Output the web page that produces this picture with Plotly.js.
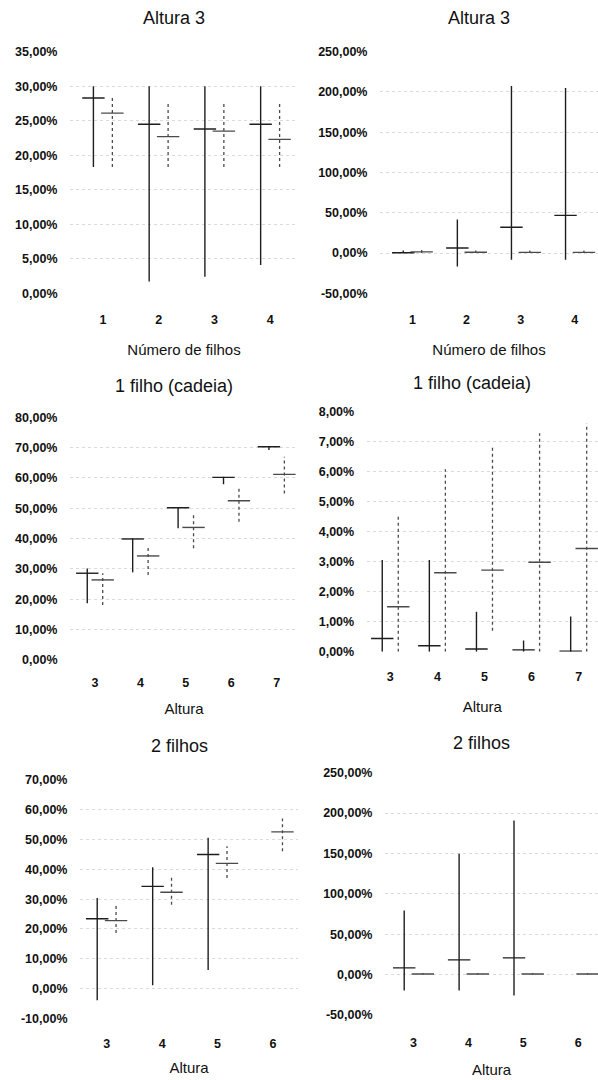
<!DOCTYPE html>
<html>
<head>
<meta charset="utf-8">
<script src="https://cdn.plot.ly/plotly-3.0.1.min.js"></script>
<style>
  html, body { margin: 0; padding: 0; background: #fff; }
  #chart { width: 598px; height: 1080px; }
</style>
</head>
<body>
<div id="chart"></div>
<script>
// ---------------- DATA ----------------
// Panel 1: "Altura 3" (left) — x: Número de filhos
const p1Title = "Altura 3";
const p1XTitle = "Número de filhos";
const p1Categories = [1, 2, 3, 4];
const p1SolidMin  = [18.3, 1.7, 2.4, 4.1];
const p1SolidMax  = [30.0, 30.0, 30.0, 30.0];
const p1SolidMean = [28.3, 24.5, 23.8, 24.5];
const p1DotMin    = [18.3, 18.3, 18.3, 18.3];
const p1DotMax    = [28.7, 27.7, 27.7, 27.5];
const p1DotMean   = [26.1, 22.7, 23.5, 22.3];
const p1YTicks    = [0, 5, 10, 15, 20, 25, 30, 35];

// Panel 2: "Altura 3" (right)
const p2Title = "Altura 3";
const p2XTitle = "Número de filhos";
const p2Categories = [1, 2, 3, 4];
const p2SolidMin  = [0.0, -16.7, -8.3, -8.3];
const p2SolidMax  = [3.1, 41.7, 207.5, 205.0];
const p2SolidMean = [0.4, 6.3, 32.0, 46.7];
const p2DotMin    = [0.0, 0.0, 0.0, 0.0];
const p2DotMax    = [4.6, 3.0, 3.0, 3.0];
const p2DotMean   = [1.5, 1.0, 0.8, 0.8];
const p2YTicks    = [-50, 0, 50, 100, 150, 200, 250];

// Panel 3: "1 filho (cadeia)" (left) — x: Altura
const p3Title = "1 filho (cadeia)";
const p3XTitle = "Altura";
const p3Categories = [3, 4, 5, 6, 7];
const p3SolidMin  = [18.7, 28.9, 43.4, 57.9, 69.2];
const p3SolidMax  = [30.2, 40.1, 50.3, 60.4, 70.5];
const p3SolidMean = [28.6, 39.9, 50.2, 60.2, 70.3];
const p3DotMin    = [18.1, 28.0, 36.8, 45.6, 54.9];
const p3DotMax    = [28.6, 37.1, 47.8, 56.6, 67.0];
const p3DotMean   = [26.4, 34.3, 43.7, 52.5, 61.2];
const p3YTicks    = [0, 10, 20, 30, 40, 50, 60, 70, 80];

// Panel 4: "1 filho (cadeia)" (right)
const p4Title = "1 filho (cadeia)";
const p4XTitle = "Altura";
const p4Categories = [3, 4, 5, 6, 7];
const p4SolidMin  = [0, 0, 0, 0, 0];
const p4SolidMax  = [3.06, 3.06, 1.33, 0.37, 1.17];
const p4SolidMean = [0.44, 0.20, 0.09, 0.06, 0.02];
const p4DotMin    = [0, 0, 0.70, 0, 0];
const p4DotMax    = [4.56, 6.08, 6.86, 7.28, 7.61];
const p4DotMean   = [1.50, 2.63, 2.72, 2.98, 3.44];
const p4YTicks    = [0, 1, 2, 3, 4, 5, 6, 7, 8];

// Panel 5: "2 filhos" (left)
const p5Title = "2 filhos";
const p5XTitle = "Altura";
const p5Categories = [3, 4, 5, 6];
const p5SolidMin  = [-3.9, 1.1, 6.2, null];
const p5SolidMax  = [30.4, 40.7, 50.6, null];
const p5SolidMean = [23.4, 34.3, 45.0, null];
const p5DotMin    = [18.6, 28.1, 37.1, 46.1];
const p5DotMax    = [27.9, 38.0, 47.8, 57.1];
const p5DotMean   = [22.8, 32.3, 42.0, 52.6];
const p5YTicks    = [-10, 0, 10, 20, 30, 40, 50, 60, 70];

// Panel 6: "2 filhos" (right)
const p6Title = "2 filhos";
const p6XTitle = "Altura";
const p6Categories = [3, 4, 5, 6];
const p6SolidMin  = [-19.8, -19.8, -26.0, null];
const p6SolidMax  = [79.3, 149.6, 190.9, null];
const p6SolidMean = [8.3, 18.2, 20.7, null];
const p6DotMin    = [0, 0, 0, 0];
const p6DotMax    = [2.0, 2.0, 2.0, 2.0];
const p6DotMean   = [0.8, 0.8, 0.8, 0.8];
const p6YTicks    = [-50, 0, 50, 100, 150, 200, 250];

// ---------------- BUILD ----------------
const W = 598, H = 1080;
const FONT = "Liberation Sans, Arial, sans-serif";
const SOLID_COLOR = "#1e1e1e";
const DOT_COLOR = "#4a4a4a";
const OFFSET = 0.17;

const panels = [
  {t:p1Title, xt:p1XTitle, c:p1Categories, sMin:p1SolidMin, sMax:p1SolidMax, sMean:p1SolidMean, dMin:p1DotMin, dMax:p1DotMax, dMean:p1DotMean, yt:p1YTicks,
   px:[70,298], py:[51.7,293.3], xr:[0.41,4.5], yr:[0,35], titleY:18, tickY:317, axY:350},
  {t:p2Title, xt:p2XTitle, c:p2Categories, sMin:p2SolidMin, sMax:p2SolidMax, sMean:p2SolidMean, dMin:p2DotMin, dMax:p2DotMax, dMean:p2DotMean, yt:p2YTicks,
   px:[380,598], py:[51.7,293.3], xr:[0.4,4.43], yr:[-50,250], titleY:18, tickY:317, axY:350},
  {t:p3Title, xt:p3XTitle, c:p3Categories, sMin:p3SolidMin, sMax:p3SolidMax, sMean:p3SolidMean, dMin:p3DotMin, dMax:p3DotMax, dMean:p3DotMean, yt:p3YTicks,
   px:[70,298], py:[417.3,660], xr:[2.45,7.47], yr:[0,80], titleY:386, tickY:680, axY:709},
  {t:p4Title, xt:p4XTitle, c:p4Categories, sMin:p4SolidMin, sMax:p4SolidMax, sMean:p4SolidMean, dMin:p4DotMin, dMax:p4DotMax, dMean:p4DotMean, yt:p4YTicks,
   px:[366.7,598], py:[411.7,651.7], xr:[2.5,7.41], yr:[0,8], titleY:383, tickY:674, axY:707},
  {t:p5Title, xt:p5XTitle, c:p5Categories, sMin:p5SolidMin, sMax:p5SolidMax, sMean:p5SolidMean, dMin:p5DotMin, dMax:p5DotMax, dMean:p5DotMean, yt:p5YTicks,
   px:[80,298], py:[780,1018.3], xr:[2.52,6.45], yr:[-10,70], titleY:746, tickY:1041, axY:1068},
  {t:p6Title, xt:p6XTitle, c:p6Categories, sMin:p6SolidMin, sMax:p6SolidMax, sMean:p6SolidMean, dMin:p6DotMin, dMax:p6DotMax, dMean:p6DotMean, yt:p6YTicks,
   px:[385,598], py:[772.7,1015], xr:[2.48,6.36], yr:[-50,250], titleY:743, tickY:1040, axY:1070}
];

function fmtPct(v) { return v.toFixed(2).replace('.', ',') + '%'; }

function segments(cats, off, mins, maxs) {
  const xs = [], ys = [];
  cats.forEach((c, i) => {
    if (mins[i] == null || maxs[i] == null) return;
    xs.push(c + off, c + off, null);
    ys.push(mins[i], maxs[i], null);
  });
  return {x: xs, y: ys};
}

const data = [];
const layout = {
  width: W, height: H,
  margin: {l: 0, r: 0, t: 0, b: 0},
  paper_bgcolor: "#fff", plot_bgcolor: "#fff",
  showlegend: false,
  font: {family: FONT, color: "#111"},
  annotations: []
};

panels.forEach((p, k) => {
  const n = k + 1;
  const xa = n === 1 ? 'x' : 'x' + n;
  const ya = n === 1 ? 'y' : 'y' + n;
  const xKey = n === 1 ? 'xaxis' : 'xaxis' + n;
  const yKey = n === 1 ? 'yaxis' : 'yaxis' + n;

  const sSeg = segments(p.c, -OFFSET, p.sMin, p.sMax);
  const dSeg = segments(p.c, OFFSET, p.dMin, p.dMax);
  data.push({type:'scatter', mode:'lines', x:sSeg.x, y:sSeg.y, xaxis:xa, yaxis:ya,
             line:{color:SOLID_COLOR, width:1.4}, hoverinfo:'skip'});
  data.push({type:'scatter', mode:'lines', x:dSeg.x, y:dSeg.y, xaxis:xa, yaxis:ya,
             line:{color:DOT_COLOR, width:1.3, dash:'dot'}, hoverinfo:'skip'});
  data.push({type:'scatter', mode:'markers', x:p.c.map(c => c - OFFSET), y:p.sMean, xaxis:xa, yaxis:ya,
             marker:{symbol:'line-ew', size:16, color:SOLID_COLOR, line:{color:SOLID_COLOR, width:1.4}}});
  data.push({type:'scatter', mode:'markers', x:p.c.map(c => c + OFFSET), y:p.dMean, xaxis:xa, yaxis:ya,
             marker:{symbol:'line-ew', size:16, color:DOT_COLOR, line:{color:DOT_COLOR, width:1.4}}});

  const xd = [p.px[0] / W, p.px[1] / W];
  const yd = [1 - p.py[1] / H, 1 - p.py[0] / H];
  const plotBottom = p.py[1];

  layout[xKey] = {
    domain: xd, anchor: ya, range: p.xr,
    tickvals: p.c, ticktext: p.c.map(String),
    ticks: 'outside', ticklen: p.tickY - plotBottom - 9, tickcolor: 'rgba(0,0,0,0)',
    showgrid: false, zeroline: false, showline: false,
    tickfont: {family: FONT, size: 12.5, color: '#111', weight: 'bold'},
    title: {text: p.xt, font: {family: FONT, size: 15, color: '#111'}, standoff: p.axY - p.tickY - 15}
  };
  layout[yKey] = {
    domain: yd, anchor: xa, range: p.yr,
    tickvals: p.yt, ticktext: p.yt.map(fmtPct),
    ticks: 'outside', ticklen: 9, tickcolor: 'rgba(0,0,0,0)',
    showgrid: true, gridcolor: '#dadada', griddash: 'dot', gridwidth: 1,
    zeroline: false, showline: false,
    tickfont: {family: FONT, size: 12.5, color: '#111', weight: 'bold'}
  };

  layout.annotations.push({
    text: p.t, xref: 'paper', yref: 'paper',
    x: (xd[0] + xd[1]) / 2 - 10 / W, y: 1 - p.titleY / H,
    xanchor: 'center', yanchor: 'middle', showarrow: false,
    font: {family: FONT, size: 18, color: '#111'}
  });
});

Plotly.newPlot('chart', data, layout, {staticPlot: true, displayModeBar: false});
</script>
</body>
</html>
